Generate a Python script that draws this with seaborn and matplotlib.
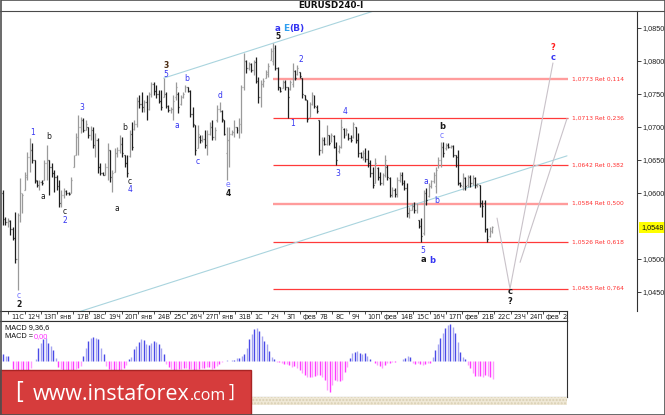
import numpy as np
import matplotlib.pyplot as plt
import matplotlib.transforms as mtransforms
from matplotlib.patches import Rectangle
from matplotlib.lines import Line2D
import seaborn as sns

sns.set_style("white")
plt.rcParams['font.family'] = ['DejaVu Sans']

# -----------------------------
# Data (EURUSD H4 bars)
# -----------------------------
opens = [
    1.0600, 1.0560, 1.0556, 1.0558, 1.0545, 1.0532, 1.0500, 1.0566, 1.0585, 1.0605,
    1.0625, 1.0655, 1.0665, 1.0650, 1.0618, 1.0612, 1.0617, 1.0620, 1.0645, 1.0650,
    1.0640, 1.0630, 1.0625, 1.0610, 1.0585, 1.0597, 1.0603, 1.0600, 1.0600, 1.0640,
    1.0658, 1.0685, 1.0700, 1.0710, 1.0695, 1.0700, 1.0688, 1.0695, 1.0672, 1.0680,
    1.0640, 1.0630, 1.0628, 1.0640, 1.0665, 1.0625, 1.0632,
    1.0660, 1.0665, 1.0675, 1.0658, 1.0645, 1.0656, 1.0690, 1.0697, 1.0705, 1.0740,
    1.0735, 1.0730, 1.0738, 1.0728, 1.0750, 1.0765, 1.0755, 1.0750, 1.0740, 1.0745,
    1.0750, 1.0732, 1.0726, 1.0728, 1.0745, 1.0750, 1.0735, 1.0745, 1.0755, 1.0760,
    1.0755, 1.0720, 1.0703, 1.0668, 1.0685, 1.0680, 1.0682, 1.0672, 1.0690, 1.0700,
    1.0685, 1.0710, 1.0728, 1.0725, 1.0710, 1.0660, 1.0680, 1.0690, 1.0692, 1.0700,
    1.0695, 1.0700,
    1.0760, 1.0800, 1.0790, 1.0795, 1.0787, 1.0798, 1.0770, 1.0745, 1.0765, 1.0774,
    1.0780, 1.0802, 1.0800, 1.0820, 1.0790, 1.0760, 1.0759, 1.0768, 1.0760, 1.0758,
    1.0765, 1.0785, 1.0780, 1.0783, 1.0774, 1.0748, 1.0741, 1.0715, 1.0735, 1.0745,
    1.0730, 1.0711, 1.0665, 1.0680, 1.0675, 1.0688, 1.0677, 1.0686, 1.0670, 1.0663,
    1.0670, 1.0697, 1.0688, 1.0690, 1.0683, 1.0685, 1.0700,
    1.0680, 1.0660, 1.0655, 1.0660, 1.0652, 1.0645, 1.0630, 1.0615, 1.0638, 1.0625,
    1.0615, 1.0628, 1.0640, 1.0622, 1.0597, 1.0605, 1.0598, 1.0620, 1.0628, 1.0615,
    1.0608, 1.0570, 1.0575, 1.0580, 1.0575, 1.0559, 1.0550, 1.0540, 1.0600, 1.0595,
    1.0610, 1.0618, 1.0610, 1.0638, 1.0650, 1.0670, 1.0668, 1.0672, 1.0670, 1.0671,
    1.0658, 1.0655, 1.0615, 1.0610, 1.0622, 1.0612, 1.0624, 1.0615, 1.0622, 1.0612,
    1.0612, 1.0585, 1.0585, 1.0545, 1.0535, 1.0542]
highs = [
    1.0605, 1.0564, 1.0562, 1.0559, 1.0548, 1.0571, 1.0570, 1.0623, 1.0600, 1.0632,
    1.0662, 1.0683, 1.0676, 1.0650, 1.0620, 1.0620, 1.0620, 1.0650, 1.0673, 1.0650,
    1.0645, 1.0635, 1.0627, 1.0620, 1.0605, 1.0608, 1.0605, 1.0602, 1.0624, 1.0658,
    1.0691, 1.0718, 1.0715, 1.0714, 1.0711, 1.0700, 1.0701, 1.0700, 1.0691, 1.0683,
    1.0645, 1.0632, 1.0645, 1.0676, 1.0665, 1.0635, 1.0668,
    1.0670, 1.0688, 1.0685, 1.0658, 1.0658, 1.0695, 1.0708, 1.0711, 1.0745, 1.0749,
    1.0753, 1.0741, 1.0749, 1.0753, 1.0768, 1.0768, 1.0764, 1.0756, 1.0756, 1.0774,
    1.0753, 1.0733, 1.0730, 1.0749, 1.0768, 1.0753, 1.0749, 1.0753, 1.0764, 1.0761,
    1.0756, 1.0730, 1.0703, 1.0703, 1.0688, 1.0688, 1.0695, 1.0695, 1.0708, 1.0711,
    1.0700, 1.0733, 1.0738, 1.0726, 1.0711, 1.0700, 1.0700, 1.0695, 1.0711, 1.0700,
    1.0714, 1.0764,
    1.0812, 1.0802, 1.0798, 1.0797, 1.0802, 1.0806, 1.0776, 1.0771, 1.0774, 1.0786,
    1.0797, 1.0820, 1.0827, 1.0824, 1.0791, 1.0761, 1.0771, 1.0771, 1.0761, 1.0771,
    1.0797, 1.0786, 1.0794, 1.0783, 1.0774, 1.0749, 1.0741, 1.0738, 1.0753, 1.0749,
    1.0733, 1.0711, 1.0685, 1.0685, 1.0703, 1.0688, 1.0691, 1.0688, 1.0677, 1.0673,
    1.0712, 1.0698, 1.0698, 1.0691, 1.0688, 1.0708, 1.0700,
    1.0691, 1.0662, 1.0665, 1.0668, 1.0665, 1.0650, 1.0639, 1.0653, 1.0639, 1.0632,
    1.0630, 1.0658, 1.0642, 1.0624, 1.0609, 1.0608, 1.0624, 1.0632, 1.0632, 1.0620,
    1.0615, 1.0579, 1.0585, 1.0586, 1.0585, 1.0559, 1.0562, 1.0605, 1.0608, 1.0615,
    1.0620, 1.0632, 1.0639, 1.0655, 1.0677, 1.0677, 1.0676, 1.0676, 1.0673, 1.0673,
    1.0658, 1.0665, 1.0617, 1.0630, 1.0624, 1.0627, 1.0627, 1.0627, 1.0624, 1.0615,
    1.0612, 1.0589, 1.0589, 1.0547, 1.0548, 1.0550]
lows = [
    1.0552, 1.0552, 1.0548, 1.0536, 1.0529, 1.0494, 1.0453, 1.0556, 1.0570, 1.0605,
    1.0620, 1.0632, 1.0645, 1.0615, 1.0609, 1.0605, 1.0612, 1.0620, 1.0620, 1.0597,
    1.0624, 1.0602, 1.0605, 1.0579, 1.0579, 1.0592, 1.0597, 1.0597, 1.0600, 1.0639,
    1.0658, 1.0658, 1.0691, 1.0692, 1.0695, 1.0683, 1.0680, 1.0668, 1.0655, 1.0630,
    1.0627, 1.0627, 1.0627, 1.0620, 1.0617, 1.0602, 1.0632,
    1.0655, 1.0661, 1.0655, 1.0639, 1.0624, 1.0655, 1.0665, 1.0695, 1.0700, 1.0729,
    1.0723, 1.0723, 1.0711, 1.0726, 1.0745, 1.0749, 1.0744, 1.0736, 1.0726, 1.0745,
    1.0729, 1.0723, 1.0721, 1.0711, 1.0741, 1.0721, 1.0733, 1.0744, 1.0753, 1.0753,
    1.0715, 1.0700, 1.0658, 1.0668, 1.0676, 1.0677, 1.0668, 1.0658, 1.0688, 1.0680,
    1.0680, 1.0708, 1.0723, 1.0708, 1.0688, 1.0620, 1.0639, 1.0688, 1.0685, 1.0691,
    1.0683, 1.0691,
    1.0756, 1.0782, 1.0786, 1.0783, 1.0779, 1.0767, 1.0736, 1.0730, 1.0761, 1.0774,
    1.0776, 1.0802, 1.0794, 1.0786, 1.0756, 1.0753, 1.0759, 1.0756, 1.0714, 1.0756,
    1.0761, 1.0771, 1.0779, 1.0774, 1.0744, 1.0741, 1.0708, 1.0715, 1.0733, 1.0729,
    1.0721, 1.0658, 1.0661, 1.0673, 1.0673, 1.0673, 1.0677, 1.0668, 1.0642, 1.0661,
    1.0668, 1.0683, 1.0688, 1.0680, 1.0677, 1.0683, 1.0676,
    1.0655, 1.0653, 1.0650, 1.0647, 1.0639, 1.0624, 1.0608, 1.0615, 1.0620, 1.0612,
    1.0612, 1.0624, 1.0620, 1.0594, 1.0594, 1.0594, 1.0594, 1.0617, 1.0612, 1.0605,
    1.0564, 1.0562, 1.0574, 1.0570, 1.0570, 1.0547, 1.0526, 1.0536, 1.0582, 1.0594,
    1.0608, 1.0615, 1.0600, 1.0638, 1.0639, 1.0655, 1.0665, 1.0668, 1.0668, 1.0655,
    1.0639, 1.0612, 1.0609, 1.0605, 1.0605, 1.0609, 1.0609, 1.0612, 1.0608, 1.0609,
    1.0579, 1.0564, 1.0541, 1.0526, 1.0533, 1.0539]
closes = [
    1.0560, 1.0556, 1.0559, 1.0545, 1.0532, 1.0500, 1.0566, 1.0600, 1.0597, 1.0628,
    1.0655, 1.0665, 1.0650, 1.0620, 1.0612, 1.0617, 1.0615, 1.0645, 1.0650, 1.0640,
    1.0630, 1.0625, 1.0610, 1.0585, 1.0597, 1.0603, 1.0600, 1.0599, 1.0620, 1.0655,
    1.0685, 1.0700, 1.0710, 1.0695, 1.0705, 1.0688, 1.0695, 1.0672, 1.0680, 1.0640,
    1.0630, 1.0628, 1.0640, 1.0665, 1.0625, 1.0630, 1.0660,
    1.0665, 1.0675, 1.0660, 1.0645, 1.0630, 1.0690, 1.0670, 1.0705, 1.0740, 1.0735,
    1.0730, 1.0738, 1.0715, 1.0750, 1.0765, 1.0755, 1.0750, 1.0740, 1.0730, 1.0770,
    1.0732, 1.0726, 1.0728, 1.0740, 1.0760, 1.0730, 1.0745, 1.0750, 1.0760, 1.0755,
    1.0720, 1.0705, 1.0665, 1.0690, 1.0680, 1.0682, 1.0672, 1.0690, 1.0700, 1.0685,
    1.0695, 1.0728, 1.0735, 1.0712, 1.0690, 1.0680, 1.0690, 1.0692, 1.0700, 1.0695,
    1.0705, 1.0760,
    1.0800, 1.0790, 1.0795, 1.0787, 1.0798, 1.0770, 1.0745, 1.0765, 1.0770, 1.0783,
    1.0792, 1.0815, 1.0820, 1.0790, 1.0760, 1.0755, 1.0768, 1.0760, 1.0745, 1.0768,
    1.0790, 1.0775, 1.0790, 1.0778, 1.0750, 1.0743, 1.0712, 1.0735, 1.0748, 1.0732,
    1.0725, 1.0665, 1.0680, 1.0675, 1.0695, 1.0676, 1.0688, 1.0670, 1.0650, 1.0670,
    1.0700, 1.0686, 1.0695, 1.0683, 1.0680, 1.0705, 1.0680,
    1.0660, 1.0655, 1.0660, 1.0652, 1.0645, 1.0630, 1.0612, 1.0645, 1.0625, 1.0615,
    1.0625, 1.0650, 1.0625, 1.0597, 1.0605, 1.0598, 1.0620, 1.0628, 1.0615, 1.0608,
    1.0570, 1.0575, 1.0580, 1.0575, 1.0582, 1.0550, 1.0535, 1.0600, 1.0590, 1.0610,
    1.0618, 1.0628, 1.0635, 1.0650, 1.0670, 1.0660, 1.0672, 1.0670, 1.0671, 1.0658,
    1.0645, 1.0615, 1.0612, 1.0625, 1.0610, 1.0624, 1.0615, 1.0622, 1.0612, 1.0614,
    1.0585, 1.0580, 1.0545, 1.0530, 1.0545, 1.0548]

# MACD histogram in points (1 point = 0.00001)
macd_hist = [
    35, 25, 25, 0,
    -40, -50, -50, -50, -50, -50, -45, -35,
    0, 10, 65, 90, 110, 115, 90, 75, 55, 15,
    -30, -40, -50, -50, -50, -50, -45, -40, -35, -25,
    25, 65, 100, 115, 120, 115, 110, 65, 35,
    -25, -40, -50, -50, -50, -50, -45, -35, -20,
    10, 20, 60, 75, 95, 110, 105, 85, 80, 90, 100, 95, 85, 65, 35,
    -15, -30, -40, -45, -45, -40, -40, -35, -35, -40, -40, -45, -45, -40, -35, -35,
    -30, -30, -40, -35, -25, -15, -5,
    0, 5, 0, 5, 5, 15, 15, 25, 35, 65, 110, 135, 160, 165, 150, 125, 100, 85, 50, 20, 10,
    -5, -5,
    -10, -15, -15, -20, -30, -25, -35, -45, -60, -70, -80, -80, -80, -75, -70, -70,
    -80, -95, -145, -155,
    -120, -95, -100, -100, -95, -55, -30,
    15, 40, 45, 50, 40, 35, 40, 25, 10, 0,
    -10, -20, -25, -35, -20, -10, -10, -5, -5, 0, 0,
    10, 15, 25, 20,
    -10, -15, -10, -15, -20, -15, -10, -10,
    20, 55, 85, 115, 140, 165, 180, 185, 170, 140, 95, 45, 20, 10,
    -20, -35, -60, -75, -75, -75, -80, -70, -75, -80, -90]

price_ticks = [1.0850, 1.0800, 1.0750, 1.0700, 1.0650, 1.0600, 1.0500, 1.0450]
last_price = 1.0548

fib_levels = [1.0773, 1.0713, 1.0642, 1.0584, 1.0526, 1.0455]
fib_ratios = [0.114, 0.236, 0.382, 0.500, 0.618, 0.764]

day_labels = ["11С", "12Ч", "13П", "янв", "17В", "18С", "19Ч", "20П", "янв", "24В",
              "25С", "26Ч", "27П", "янв", "31В", "1С", "2Ч", "3П", "фев", "7В",
              "8С", "9Ч", "10П", "фев", "14В", "15С", "16Ч", "17П", "фев", "21В",
              "22С", "23Ч", "24П", "фев", "28В"]

# channel: upper line through two wave tops, lower one parallel
channel_bars = [66, 111]
channel_width = 0.0313

# forecast path (day, price)
proj_a_days = [30.17, 30.97, 33.62]
proj_a_prices = [1.0562, 1.0455, 1.0797]
proj_b_days = [31.59, 34.49]
proj_b_prices = [1.0495, 1.0713]

BL, LB, BK, BR, RD, CY = '#3535f2', '#7474ff', '#1a1a1a', '#4a2a10', '#ff2020', '#2f9ff0'
# text, day, price, colour, size, weight, horizontal alignment
waves = [
    ("c", 0.66, 1.0445, LB, 5.5, 'normal', 'center'), ("2", 0.66, 1.0431, BK, 5.5, 'bold', 'center'),
    ("1", 1.52, 1.0691, BL, 5.5, 'normal', 'center'), ("b", 2.51, 1.0685, BK, 5.5, 'normal', 'center'),
    ("a", 2.14, 1.0594, BK, 5.5, 'normal', 'center'), ("c", 3.50, 1.0572, BK, 5.5, 'normal', 'center'),
    ("2", 3.50, 1.0558, BL, 5.5, 'normal', 'center'), ("3", 4.55, 1.0729, BL, 5.5, 'normal', 'center'),
    ("b", 7.21, 1.0700, BK, 5.5, 'normal', 'center'), ("a", 6.71, 1.0577, BK, 5.5, 'normal', 'center'),
    ("c", 7.51, 1.0618, BK, 5.5, 'normal', 'center'), ("4", 7.51, 1.0605, BL, 5.5, 'normal', 'center'),
    ("3", 9.73, 1.0793, BR, 5.5, 'bold', 'center'), ("5", 9.73, 1.0779, BL, 5.5, 'normal', 'center'),
    ("b", 11.03, 1.0773, BL, 5.5, 'normal', 'center'), ("a", 10.41, 1.0703, BL, 5.5, 'normal', 'center'),
    ("c", 11.71, 1.0648, BL, 5.5, 'normal', 'center'), ("d", 13.07, 1.0747, BL, 5.5, 'normal', 'center'),
    ("e", 13.56, 1.0613, LB, 5.5, 'normal', 'center'), ("4", 13.56, 1.0600, BK, 5.5, 'bold', 'center'),
    ("a", 16.46, 1.0850, BL, 6.2, 'bold', 'left'), ("E", 16.95, 1.0850, CY, 6.5, 'bold', 'left'),
    ("(B)", 17.33, 1.0850, BL, 6.5, 'bold', 'left'), ("5", 16.62, 1.0837, BK, 5.5, 'bold', 'center'),
    ("2", 18.07, 1.0802, BL, 5.5, 'normal', 'center'), ("1", 17.57, 1.0705, BL, 5.5, 'normal', 'center'),
    ("4", 20.78, 1.0724, BL, 5.5, 'normal', 'center'), ("3", 20.35, 1.0630, BL, 5.5, 'normal', 'center'),
    ("b", 26.77, 1.0701, BK, 6, 'bold', 'center'), ("c", 26.77, 1.0687, LB, 5.5, 'normal', 'center'),
    ("a", 25.78, 1.0617, BL, 5.5, 'normal', 'center'), ("b", 26.46, 1.0589, BL, 5.5, 'normal', 'center'),
    ("5", 25.60, 1.0513, BL, 5.5, 'normal', 'center'), ("a", 25.60, 1.0499, BK, 6, 'bold', 'center'),
    ("b", 26.15, 1.0498, BL, 6, 'bold', 'center'),
    ("?", 33.62, 1.0821, RD, 6, 'bold', 'center'), ("c", 33.62, 1.0806, BL, 6, 'bold', 'center'),
    ("c", 30.97, 1.0451, BK, 6, 'bold', 'center'), ("?", 30.97, 1.0436, BK, 6, 'bold', 'center'),
]

# -----------------------------
# Layout helpers (pixel geometry of the screenshot)
# -----------------------------
W, H = 665, 415
PX_DAY = 16.2      # pixels per day column
DAY0_PX = 8.3      # pixel of first day tick
PRICE_REF, Y_REF, PRICE_PX = 1.0850, 28, 0.0001515


def box(x0, y0, x1, y1):
    return [x0 / W, 1 - y1 / H, (x1 - x0) / W, (y1 - y0) / H]


def px2day(px):
    return (px - DAY0_PX) / PX_DAY


fig = plt.figure(figsize=(W / 100, H / 100), dpi=100)
fig.patch.set_facecolor('white')

# -----------------------------
# Price panel
# -----------------------------
ax = fig.add_axes(box(0, 11, 637, 311))
ax.set_xlim(px2day(0), px2day(637))
ax.set_ylim(PRICE_REF - (311 - Y_REF) * PRICE_PX, PRICE_REF + (Y_REF - 11) * PRICE_PX)
for s in ['top', 'left', 'bottom']:
    ax.spines[s].set_visible(False)
ax.spines['right'].set_color('#303030')
ax.spines['right'].set_linewidth(0.8)
ax.set_xticks([])
ax.yaxis.tick_right()
ax.set_yticks(price_ticks)
ax.set_yticklabels([f"{p:.4f}".replace('.', ',') for p in price_ticks],
                   fontfamily='Liberation Sans')
ax.tick_params(axis='y', right=True, length=3, width=0.6, labelsize=5.2, pad=1,
               colors='#202020')

o, hi, lo, c = map(np.array, (opens, highs, lows, closes))
n = len(hi)
bar_x = np.linspace(px2day(3), px2day(492), n)

# fib levels start at wave (B) top
b_top = int(np.argmax(hi))
x_end = px2day(568)
for lev, rat in zip(fib_levels, fib_ratios):
    light = rat in (0.114, 0.5)
    ax.hlines(lev, bar_x[b_top], x_end, colors='#ff9c9c' if light else '#ff3a3a',
              lw=1.7 if light else 0.9, zorder=1)
    ax.text(px2day(572), lev, f"{lev:.4f} Ret {rat:.3f}".replace('.', ','),
            color='#ff3030', fontsize=4.3, va='center', ha='left')

# channel lines
x1, x2 = bar_x[channel_bars[0]], bar_x[channel_bars[1]]
y1, y2 = hi[channel_bars[0]], hi[channel_bars[1]]
slope = (y2 - y1) / (x2 - x1)
up_x = np.array([x1, px2day(567)])
sns.lineplot(x=up_x, y=y1 + slope * (up_x - x1), ax=ax, color='#a9d4de', lw=0.8)
lo_x = np.array([px2day(60), px2day(567)])
sns.lineplot(x=lo_x, y=y1 + slope * (lo_x - x1) - channel_width, ax=ax,
             color='#a9d4de', lw=0.8)

# forecast path
sns.lineplot(x=proj_a_days, y=proj_a_prices, ax=ax, color='#c9c2c9', lw=0.8, sort=False)
sns.lineplot(x=proj_b_days, y=proj_b_prices, ax=ax, color='#c9c2c9', lw=0.8, sort=False)

# OHLC bars
cols = np.where(c >= o, '#9a9a9a', '#1e1e1e')
tw = 0.055
ax.vlines(bar_x, lo, hi, colors=cols, lw=0.9, zorder=3)
ax.hlines(o, bar_x - tw, bar_x, colors=cols, lw=0.9, zorder=3)
ax.hlines(c, bar_x, bar_x + tw, colors=cols, lw=0.9, zorder=3)

# wave labels
for txt, d, p, col, fs, fw, ha in waves:
    ax.text(d, p, txt, color=col, fontsize=fs, fontweight=fw, ha=ha, va='center',
            zorder=5)

# current price marker
trans = mtransforms.blended_transform_factory(ax.transAxes, ax.transData)
ax.text(1.0 + 4 / 637, last_price, f"{last_price:.4f}".replace('.', ','), transform=trans,
        fontsize=5.2, ha='left', va='center', color='#101010', clip_on=False,
        fontfamily='Liberation Sans',
        bbox=dict(boxstyle='square,pad=0.3', fc='#ffff00', ec='none'))

# -----------------------------
# Date row
# -----------------------------
ax_d = fig.add_axes(box(0, 311, 567, 321))
ax_d.set_xlim(px2day(0), px2day(567))
ax_d.set_ylim(0, 1)
ax_d.spines['left'].set_visible(False)
for s in ['top', 'bottom', 'right']:
    ax_d.spines[s].set_color('#303030')
    ax_d.spines[s].set_linewidth(0.8)
ax_d.set_yticks([])
ax_d.set_xticks(np.arange(len(day_labels)))
ax_d.set_xticklabels([])
ax_d.tick_params(axis='x', top=True, bottom=False, direction='in', length=2.5, width=0.6,
                 colors='#303030')
for k, lab in enumerate(day_labels):
    ax_d.text(k + 3 / PX_DAY, 0.45, lab, fontsize=4.8, ha='left', va='center',
              color='#202020', clip_on=True)

# -----------------------------
# MACD panel
# -----------------------------
ax_m = fig.add_axes(box(0, 321, 567, 397))
ax_m.set_xlim(px2day(0), px2day(567))
ax_m.set_ylim(-180, 200)
ax_m.spines['left'].set_visible(False)
for s in ['top', 'bottom', 'right']:
    ax_m.spines[s].set_color('#303030')
    ax_m.spines[s].set_linewidth(0.8)
ax_m.set_xticks([])
ax_m.set_yticks([])
mh = np.array(macd_hist)
mx = np.linspace(px2day(3), px2day(493), len(mh))
alt = np.arange(len(mh)) % 2 == 0
mcols = np.where(mh >= 0, np.where(alt, '#4a4ae6', '#a4a4f2'),
                 np.where(alt, '#ff3cff', '#ff9cff'))
ax_m.vlines(mx, 0, mh, colors=mcols, lw=1.0)
ax_m.text(5 / 567, 0.92, "MACD 9,36,6", transform=ax_m.transAxes, fontsize=5.3,
          va='center', ha='left', color='#101010', fontfamily='Liberation Sans')
t_lbl = ax_m.text(5 / 567, 0.80, "MACD =", transform=ax_m.transAxes, fontsize=5.3,
                  va='center', ha='left', color='#101010', fontfamily='Liberation Sans')
fig.canvas.draw()
lbl_end = ax_m.transAxes.inverted().transform((t_lbl.get_window_extent().x1 + 1, 0))[0]
ax_m.text(lbl_end, 0.80, "0,00", transform=ax_m.transAxes, fontsize=5.3,
          va='center', ha='left', color='#ff30ff', fontfamily='Liberation Sans')

# scroll band under MACD
fig.add_artist(Rectangle((0, 1 - 405 / H), 567 / W, 8 / H, transform=fig.transFigure,
                         fc='#efe8d6', ec='#d9cfb2', lw=0, hatch='.....', zorder=2))

# -----------------------------
# Frame, title, banner
# -----------------------------
fig.add_artist(Line2D([0, 1], [1 - 11 / H] * 2, transform=fig.transFigure,
                      color='#4a4a4a', lw=0.8))
fig.text(331 / W, 1 - 6 / H, "EURUSD240-I", fontsize=6.3, fontweight='bold',
         ha='center', va='center', color='#101010')

fig.add_artist(Rectangle((0, 0), 251 / W, 45 / H, transform=fig.transFigure,
                         fc='#d63c3c', ec='#a82424', lw=1, zorder=10))
fig.text(15 / W, 1 - 392 / H, "[", fontsize=17, color='white', ha='left', va='center',
         zorder=11, fontfamily='Open Sans')
t_main = fig.text(33 / W, 1 - 400 / H, "www.instaforex", fontsize=15.5, color='white',
                  ha='left', va='baseline', zorder=11, fontfamily='Open Sans')
fig.canvas.draw()
bb = t_main.get_window_extent()
fig.text(bb.x1 / W, 1 - 400 / H, ".com", fontsize=11.5, color='white', ha='left',
         va='baseline', zorder=11, fontfamily='Open Sans')
fig.text(229 / W, 1 - 392 / H, "]", fontsize=13, color='white', ha='left', va='center',
         zorder=11, fontfamily='Open Sans')

fig.add_artist(Rectangle((0.5 / W, 0.5 / H), (W - 1) / W, (H - 1) / H,
                         transform=fig.transFigure, fill=False, ec='#505050', lw=1.2,
                         zorder=12))

fig.savefig("out.png", dpi=100, facecolor='white')
